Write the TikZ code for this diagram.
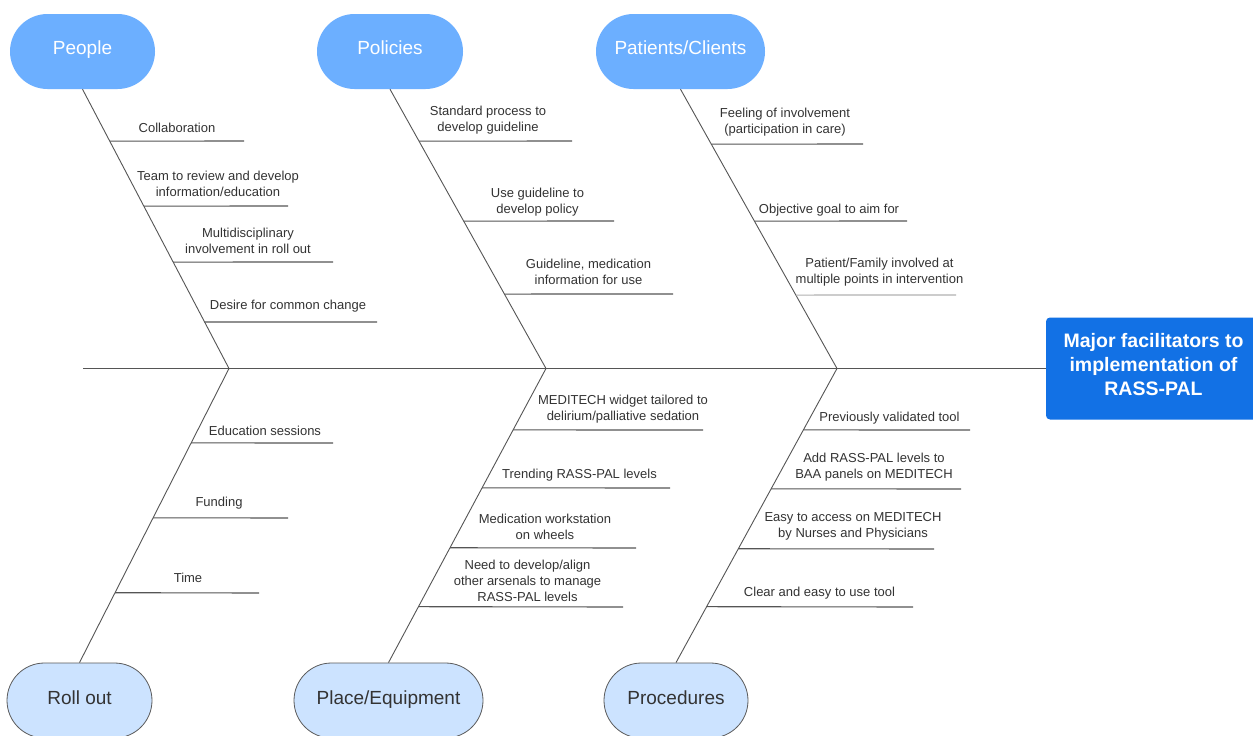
\documentclass[tikz,border=0pt]{standalone}
\usepackage{fontspec}
\setmainfont{Liberation Sans}
\usetikzlibrary{calc}
\definecolor{topblue}{RGB}{108,175,255}
\definecolor{paleblue}{RGB}{204,227,255}
\definecolor{ovalborder}{RGB}{90,90,90}
\definecolor{mainblue}{RGB}{18,113,229}
\definecolor{linegrey}{RGB}{85,85,85}
\definecolor{txt}{RGB}{51,51,51}
\begin{document}
\begin{tikzpicture}[x=1pt,y=-1pt,
  topcat/.style={rectangle, rounded corners=37.5pt, fill=topblue, text=white, minimum height=75pt, inner sep=0pt, text height=14pt, text depth=7.4pt, font=\fontsize{19}{23}\selectfont},
  botcat/.style={rectangle, rounded corners=37.5pt, fill=paleblue, draw=ovalborder, line width=0.8pt, text=txt, minimum height=75pt, inner sep=0pt, text height=14pt, text depth=5.4pt, font=\fontsize{19}{23}\selectfont},
  effectbox/.style={rectangle, rounded corners=4pt, fill=mainblue, inner sep=0pt},
  effecttxt/.style={text=white, align=center, inner sep=0pt, font=\bfseries\fontsize{19.5}{24}\selectfont},
  bone/.style={draw=linegrey, line width=0.9pt},
  rib/.style={draw=linegrey, line width=1.1pt},
  lbl/.style={font=\fontsize{13}{16}\selectfont, text=txt, align=center, inner sep=0pt}]
\useasboundingbox (0,0) rectangle (1253,736);
\fill[white] (0,0) rectangle (1253,736);

% category heads
\node[topcat, minimum width=145pt] (people) at (82.5,51.5) {People};
\node[topcat, minimum width=146pt] (policies) at (390,51.5) {Policies};
\node[topcat, minimum width=169pt] (patients) at (680.5,51.5) {Patients/Clients};
\node[botcat, minimum width=145pt] (rollout) at (79.5,700.5) {Roll out};
\node[botcat, minimum width=189pt] (place) at (388.5,700.5) {Place/Equipment};
\node[botcat, minimum width=144pt] (procedures) at (676,700.5) {Procedures};
\node[effectbox, minimum width=215pt, minimum height=102pt] (effect) at (1153.5,368.5) {};
\node[effecttxt] (effecttext) at (1153.5,364.5) {Major facilitators to\\implementation of\\RASS-PAL};

% spine and bones
\coordinate (tail) at (83,368.5);
\coordinate (j1) at (229,368.5);
\coordinate (j2) at (546,368.5);
\coordinate (j3) at (837,368.5);
\draw[bone] (tail) -- (effect.west);
\draw[bone] (people.south) -- (j1) -- (rollout.north);
\draw[bone] (policies.south) -- (j2) -- (place.north);
\draw[bone] (patients.south) -- (j3) -- (procedures.north);

% rib end points
\coordinate (e11) at (244,141);
\coordinate (e12) at (288,206);
\coordinate (e13) at (333,262);
\coordinate (e14) at (377,322);
\coordinate (e21) at (572,141);
\coordinate (e22) at (614,221);
\coordinate (e23) at (673,294);
\coordinate (e31) at (863,144);
\coordinate (e32) at (907,221);
\coordinate (e33) at (956,295);
\coordinate (e41) at (333,443);
\coordinate (e42) at (288,518);
\coordinate (e43) at (259,593);
\coordinate (e51) at (703,430);
\coordinate (e52) at (670,488);
\coordinate (e53) at (636,548);
\coordinate (e54) at (623,607);
\coordinate (e61) at (970,430);
\coordinate (e62) at (961,489);
\coordinate (e63) at (934,549);
\coordinate (e64) at (913,607);

% ribs: People
\draw[rib] ($(people.south)!{(141-89)/279.5}!(j1)$) -- (e11);
\draw[rib] ($(people.south)!{(206-89)/279.5}!(j1)$) -- (e12);
\draw[rib] ($(people.south)!{(262-89)/279.5}!(j1)$) -- (e13);
\draw[rib] ($(people.south)!{(322-89)/279.5}!(j1)$) -- (e14);
% Policies
\draw[rib] ($(policies.south)!{(141-89)/279.5}!(j2)$) -- (e21);
\draw[rib] ($(policies.south)!{(221-89)/279.5}!(j2)$) -- (e22);
\draw[rib] ($(policies.south)!{(294-89)/279.5}!(j2)$) -- (e23);
% Patients
\draw[rib] ($(patients.south)!{(144-89)/279.5}!(j3)$) -- (e31);
\draw[rib] ($(patients.south)!{(221-89)/279.5}!(j3)$) -- (e32);
\draw[rib, draw=linegrey!45] ($(patients.south)!{(295-89)/279.5}!(j3)$) -- (e33);
% Roll out
\draw[rib] ($(j1)!{(443-368.5)/294.5}!(rollout.north)$) -- (e41);
\draw[rib] ($(j1)!{(518-368.5)/294.5}!(rollout.north)$) -- (e42);
\draw[rib] ($(j1)!{(593-368.5)/294.5}!(rollout.north)$) -- (e43);
% Place/Equipment
\draw[rib] ($(j2)!{(430-368.5)/294.5}!(place.north)$) -- (e51);
\draw[rib] ($(j2)!{(488-368.5)/294.5}!(place.north)$) -- (e52);
\draw[rib] ($(j2)!{(548-368.5)/294.5}!(place.north)$) -- (e53);
\draw[rib] ($(j2)!{(607-368.5)/294.5}!(place.north)$) -- (e54);
% Procedures
\draw[rib] ($(j3)!{(430-368.5)/294.5}!(procedures.north)$) -- (e61);
\draw[rib] ($(j3)!{(489-368.5)/294.5}!(procedures.north)$) -- (e62);
\draw[rib] ($(j3)!{(549-368.5)/294.5}!(procedures.north)$) -- (e63);
\draw[rib] ($(j3)!{(607-368.5)/294.5}!(procedures.north)$) -- (e64);

% labels
\node[lbl] (l11) at (177,128) {Collaboration};
\node[lbl] (l12) at (218,184) {Team to review and develop\\information/education};
\node[lbl] (l13) at (248,241) {Multidisciplinary\\involvement in roll out};
\node[lbl] (l14) at (288,306) {Desire for common change};
\node[lbl] (l21) at (488,120.5) {Standard process to\\develop guideline};
\node[lbl] (l22) at (537.5,202.5) {Use guideline to\\develop policy};
\node[lbl] (l23) at (588.5,271.5) {Guideline, medication\\information for use};
\node[lbl] (l31) at (785,122.5) {Feeling of involvement\\(participation in care)};
\node[lbl] (l32) at (829,210) {Objective goal to aim for};
\node[lbl] (l33) at (879.5,272.5) {Patient/Family involved at\\multiple points in intervention};
\node[lbl] (l41) at (265,431) {Education sessions};
\node[lbl] (l42) at (219,503) {Funding};
\node[lbl] (l43) at (188,578) {Time};
\node[lbl] (l51) at (623,409.5) {MEDITECH widget tailored to\\delirium/palliative sedation};
\node[lbl] (l52) at (579.5,475) {Trending RASS-PAL levels};
\node[lbl] (l53) at (545,526.5) {Medication workstation\\on wheels};
\node[lbl] (l54) at (527.5,580.5) {Need to develop/align\\other arsenals to manage\\RASS-PAL levels};
\node[lbl] (l61) at (889.5,418) {Previously validated tool};
\node[lbl] (l62) at (874,467.5) {Add RASS-PAL levels to\\BAA panels on MEDITECH};
\node[lbl] (l63) at (853,526.5) {Easy to access on MEDITECH\\by Nurses and Physicians};
\node[lbl] (l64) at (819.5,593) {Clear and easy to use tool};
\end{tikzpicture}
\end{document}
